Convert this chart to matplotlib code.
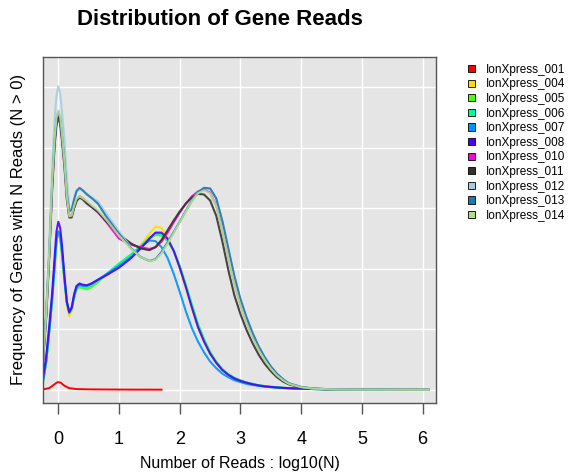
import numpy as np
import matplotlib
matplotlib.use("Agg")
from matplotlib import pyplot as plt
from matplotlib.patches import Patch

plt.rcParams["font.family"] = ["Liberation Sans", "DejaVu Sans"]

nan = np.nan

# shared log10(N) grid for the density curves
x_grid = [-0.25, -0.2, -0.15, -0.1, -0.06, -0.03, 0.0, 0.03, 0.06, 0.1,
          0.14, 0.18, 0.22, 0.26, 0.3, 0.35, 0.4, 0.47, 0.55, 0.65,
          0.8, 1.0, 1.2, 1.35, 1.5, 1.6, 1.7, 1.8, 1.9, 2.0,
          2.1, 2.2, 2.3, 2.4, 2.5, 2.6, 2.7, 2.8, 2.9, 3.0,
          3.1, 3.2, 3.3, 3.4, 3.5, 3.6, 3.7, 3.8, 4.0, 4.2,
          4.5, 5.0, 5.5, 6.1]

# sample 001 has its own short grid
x_001 = [-0.25, -0.15, -0.08, -0.03, 0.0, 0.04, 0.1, 0.18, 0.3, 0.5, 0.8, 1.2, 1.7]
y_001 = [0.01, 0.03, 0.08, 0.12, 0.13, 0.12, 0.07, 0.03, 0.015, 0.01, 0.008, 0.006, 0.005]

y_004 = [0.15, 0.45, 0.95, 1.5, 2.05, 2.45, 2.6, 2.52, 2.26, 1.8,
         1.4, 1.22, 1.3, 1.52, 1.68, 1.73, 1.71, 1.7, 1.74, 1.8,
         1.9, 2.06, 2.22, 2.38, 2.58, 2.7, 2.68, 2.52, 2.3, 2.0,
         1.68, 1.35, 1.03, 0.79, 0.59, 0.44, 0.33, 0.25, 0.19, 0.15,
         0.12, 0.095, 0.075, 0.06, 0.05, 0.042, 0.035, 0.03, 0.022, 0.016,
         0.01, 0.006, nan, nan]
y_005 = [0.15, 0.45, 0.95, 1.5, 2.05, 2.45, 2.6, 2.52, 2.26, 1.82,
         1.44, 1.28, 1.34, 1.52, 1.66, 1.7, 1.68, 1.66, 1.7, 1.78,
         1.92, 2.08, 2.24, 2.36, 2.5, 2.56, 2.55, 2.46, 2.3, 2.05,
         1.74, 1.41, 1.09, 0.84, 0.63, 0.47, 0.35, 0.26, 0.2, 0.16,
         0.125, 0.1, 0.08, 0.065, 0.053, 0.044, 0.037, 0.031, 0.023, 0.017,
         0.011, 0.007, 0.005, 0.004]
y_006 = [0.15, 0.46, 0.96, 1.52, 2.07, 2.47, 2.62, 2.54, 2.28, 1.83,
         1.44, 1.27, 1.34, 1.54, 1.68, 1.72, 1.7, 1.69, 1.73, 1.8,
         1.92, 2.09, 2.24, 2.37, 2.52, 2.58, 2.57, 2.47, 2.3, 2.04,
         1.73, 1.4, 1.08, 0.83, 0.62, 0.46, 0.34, 0.26, 0.2, 0.155,
         0.122, 0.098, 0.078, 0.063, 0.052, 0.043, 0.036, 0.03, 0.022, 0.016,
         0.01, 0.006, 0.004, nan]
y_007 = [0.16, 0.47, 0.97, 1.53, 2.08, 2.48, 2.62, 2.54, 2.28, 1.84,
         1.46, 1.3, 1.36, 1.56, 1.7, 1.74, 1.72, 1.72, 1.76, 1.82,
         1.92, 2.05, 2.2, 2.36, 2.47, 2.46, 2.36, 2.18, 1.92, 1.62,
         1.3, 1.02, 0.8, 0.62, 0.47, 0.36, 0.27, 0.21, 0.16, 0.13,
         0.1, 0.082, 0.067, 0.055, 0.046, 0.038, 0.032, 0.027, 0.02, 0.014,
         0.009, nan, nan, nan]
y_008 = [0.2, 0.55, 1.05, 1.62, 2.2, 2.62, 2.78, 2.68, 2.4, 1.9,
         1.46, 1.28, 1.36, 1.58, 1.72, 1.76, 1.74, 1.73, 1.76, 1.82,
         1.9, 2.02, 2.18, 2.33, 2.5, 2.6, 2.6, 2.5, 2.3, 2.02,
         1.7, 1.36, 1.04, 0.8, 0.6, 0.45, 0.33, 0.25, 0.19, 0.15,
         0.12, 0.095, 0.075, 0.06, 0.05, 0.042, 0.035, 0.03, 0.022, 0.016,
         0.01, nan, nan, nan]
y_010 = [0.5, 1.22, 2.22, 3.38, 4.1, 4.43, 4.55, 4.45, 4.17, 3.74,
         3.18, 2.88, 2.88, 3.02, 3.14, 3.2, 3.17, 3.1, 3.03, 2.94,
         2.76, 2.5, 2.4, 2.36, 2.33, 2.36, 2.45, 2.6, 2.77, 2.93,
         3.08, 3.2, 3.28, 3.31, 3.26, 3.05, 2.66, 2.2, 1.76, 1.4,
         1.12, 0.88, 0.67, 0.5, 0.36, 0.25, 0.16, 0.1, 0.045, 0.022,
         0.01, 0.005, 0.004, 0.003]
y_011 = [0.5, 1.2, 2.2, 3.35, 4.05, 4.38, 4.5, 4.4, 4.12, 3.7,
         3.15, 2.85, 2.85, 3.0, 3.12, 3.18, 3.15, 3.08, 3.02, 2.94,
         2.78, 2.57, 2.42, 2.34, 2.31, 2.36, 2.48, 2.64, 2.8, 2.95,
         3.08, 3.18, 3.24, 3.23, 3.13, 2.88, 2.46, 1.98, 1.56, 1.25,
         0.99, 0.77, 0.58, 0.43, 0.31, 0.21, 0.14, 0.09, 0.04, 0.02,
         0.01, 0.005, 0.004, 0.003]
y_012 = [0.55, 1.3, 2.4, 3.7, 4.5, 4.86, 5.02, 4.9, 4.6, 4.15,
         3.5, 3.0, 2.98, 3.14, 3.27, 3.32, 3.3, 3.25, 3.18, 3.12,
         2.9, 2.62, 2.35, 2.2, 2.14, 2.16, 2.28, 2.44, 2.61, 2.78,
         2.96, 3.13, 3.27, 3.34, 3.32, 3.15, 2.78, 2.32, 1.86, 1.48,
         1.18, 0.93, 0.71, 0.53, 0.38, 0.26, 0.17, 0.11, 0.05, 0.024,
         0.011, 0.006, 0.004, 0.003]
y_013 = [0.52, 1.24, 2.25, 3.45, 4.15, 4.48, 4.6, 4.5, 4.22, 3.8,
         3.25, 2.95, 2.98, 3.15, 3.29, 3.34, 3.3, 3.23, 3.17, 3.08,
         2.85, 2.58, 2.34, 2.2, 2.13, 2.16, 2.28, 2.44, 2.61, 2.78,
         2.96, 3.13, 3.27, 3.34, 3.33, 3.17, 2.8, 2.34, 1.88, 1.5,
         1.2, 0.94, 0.72, 0.54, 0.39, 0.27, 0.18, 0.11, 0.05, 0.024,
         0.011, 0.006, 0.004, 0.003]
y_014 = [0.53, 1.26, 2.28, 3.48, 4.18, 4.5, 4.62, 4.52, 4.23, 3.78,
         3.2, 2.87, 2.88, 3.04, 3.16, 3.2, 3.17, 3.12, 3.05, 2.97,
         2.8, 2.55, 2.33, 2.2, 2.13, 2.15, 2.26, 2.42, 2.6, 2.77,
         2.95, 3.12, 3.25, 3.3, 3.25, 3.04, 2.64, 2.18, 1.74, 1.39,
         1.1, 0.86, 0.66, 0.49, 0.35, 0.24, 0.16, 0.1, 0.045, 0.022,
         0.01, 0.005, 0.004, 0.003]

samples = ["IonXpress_001", "IonXpress_004", "IonXpress_005", "IonXpress_006",
           "IonXpress_007", "IonXpress_008", "IonXpress_010", "IonXpress_011",
           "IonXpress_012", "IonXpress_013", "IonXpress_014"]
colors = ["#FF0000", "#FFDB00", "#49FF00", "#00FF92", "#0092FF", "#4900FF",
          "#FF00DB", "#333333", "#A6CEE3", "#1F78B4", "#B2DF8A"]
curves = [y_004, y_005, y_006, y_007, y_008, y_010, y_011, y_012, y_013, y_014]

fig = plt.figure(figsize=(5.69, 4.76), dpi=100)
ax = fig.add_axes([0.0756, 0.1534, 0.6907, 0.7266])
ax.set_facecolor("#E5E5E5")
ax.set_xlim(-0.252, 6.22)
ax.set_ylim(-0.215, 5.5)
ax.set_xticks(range(7))
ax.set_yticks(range(6))
ax.grid(True, color="white", lw=1.0)
ax.set_axisbelow(True)

ax.plot(x_001, y_001, color=colors[0], lw=1.4)
for y, c in zip(curves, colors[1:]):
    ax.plot(x_grid, y, color=c, lw=1.5, alpha=0.9)

for s in ax.spines.values():
    s.set_color("#555555")
    s.set_linewidth(1.0)
ax.tick_params(axis="y", left=False, labelleft=False)
ax.tick_params(axis="x", direction="out", length=8, width=1, color="#555555",
               labelsize=13, pad=12)

ax.set_xlabel("Number of Reads : log10(N)", fontsize=11.5, labelpad=6)
fig.text(0.032, 0.517, "Frequency of Genes with N Reads (N > 0)", rotation=90,
         ha="center", va="center", fontsize=12)
fig.text(0.387, 0.958, "Distribution of Gene Reads", ha="center", va="center",
         fontsize=16, fontweight="bold")

handles = [Patch(facecolor=c, edgecolor="black", lw=0.6) for c in colors]
fig.legend(handles, samples, loc="upper left", bbox_to_anchor=(0.822, 0.866),
           frameon=False, fontsize=8.5, handlelength=0.65, handleheight=0.55,
           handletextpad=0.9, labelspacing=0.22, borderpad=0, borderaxespad=0)

fig.savefig("out.png", dpi=100)
